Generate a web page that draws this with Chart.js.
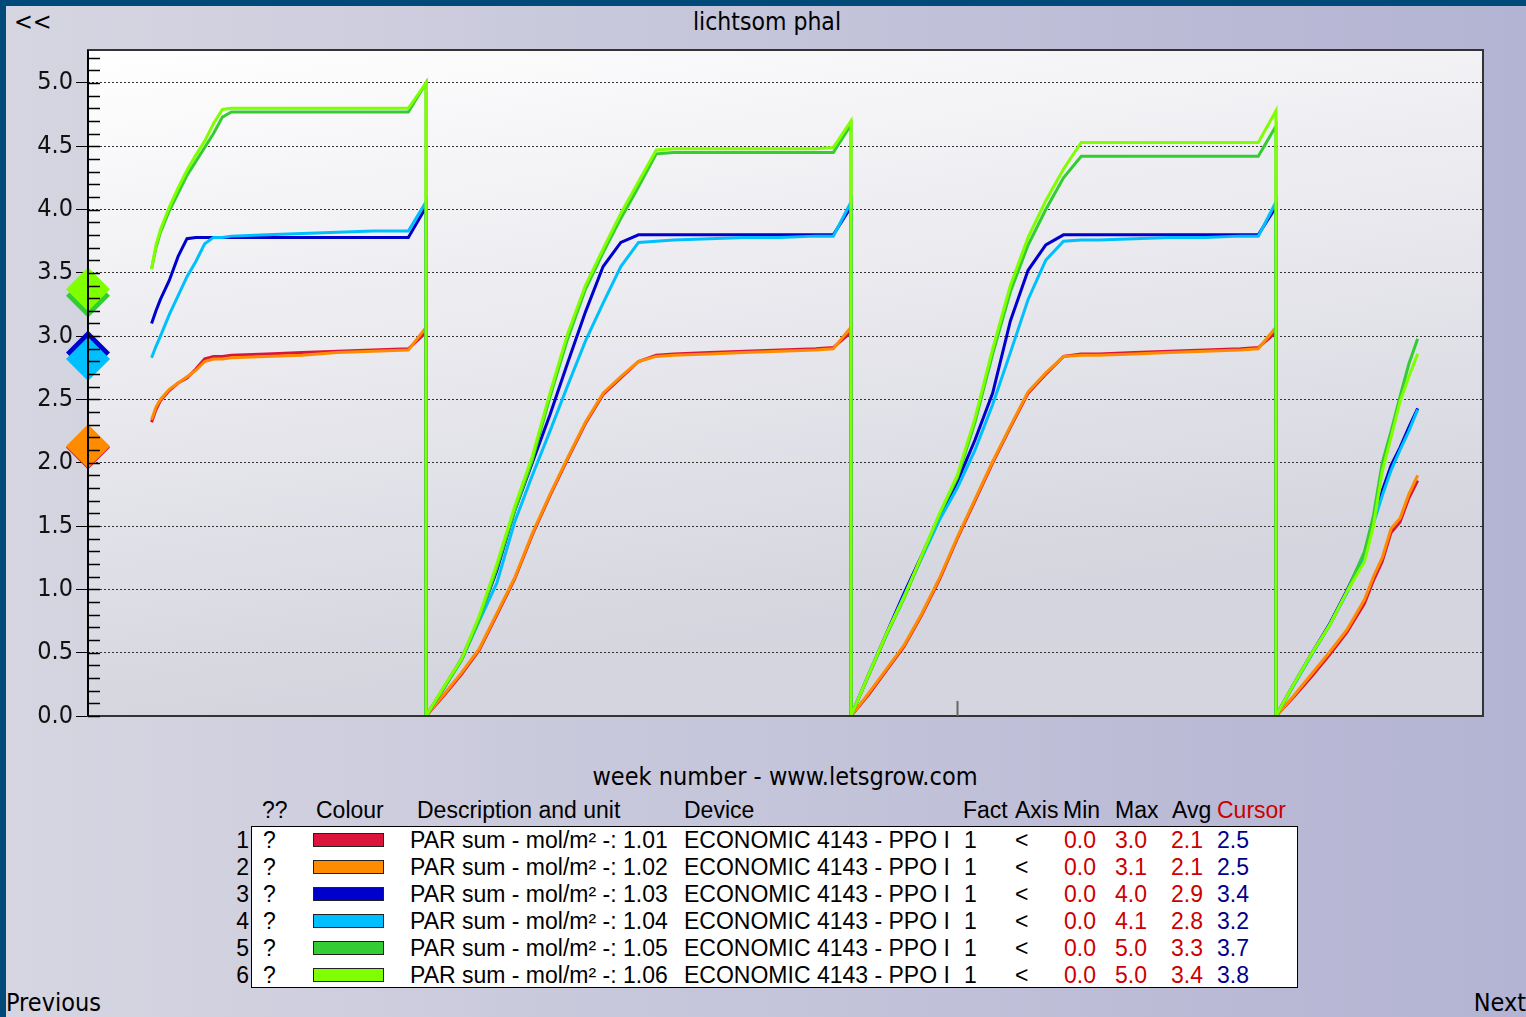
<!DOCTYPE html>
<html><head><meta charset="utf-8">
<script src="https://cdn.jsdelivr.net/npm/chart.js@4"></script>
<style>
html,body{margin:0;padding:0;}
body{width:1526px;height:1017px;overflow:hidden;position:relative;background:linear-gradient(to right,#d6d6e2,#b3b3d3);font-family:'DejaVu Sans Condensed','DejaVu Sans',sans-serif;}
#topbar{position:absolute;left:0;top:0;width:1526px;height:6px;background:#004a7a;}
#leftbar{position:absolute;left:0;top:0;width:6px;height:1017px;background:#004a7a;}
.t{position:absolute;white-space:nowrap;color:#000;font-size:25px;line-height:30px;}
canvas{position:absolute;left:0;top:0;}
.tb{position:absolute;white-space:nowrap;font-family:'Liberation Sans',Arial,sans-serif;font-size:23px;line-height:27px;color:#000;}
#box{position:absolute;left:251px;top:826px;width:1045px;height:160px;background:#fff;border:1.5px solid #000;}
.sw{position:absolute;left:313px;width:69px;height:12px;border:1px solid #222;}
</style></head>
<body>
<div id="topbar"></div><div id="leftbar"></div>
<div class="t" style="left:14px;top:7px;">&lt;&lt;</div>
<div class="t" style="left:567px;width:400px;text-align:center;top:7px;font-size:24.5px;">lichtsom phal</div>
<canvas id="c" width="1526" height="760"></canvas>
<div class="t" style="left:585px;width:400px;text-align:center;top:762px;">week number - www.letsgrow.com</div>
<div id="box"></div>
<div id="legend"></div>
<div class="t" style="left:6px;top:988px;">Previous</div>
<div class="t" style="right:0px;top:988px;">Next</div>
<script>
// time in hours (0 = first midnight in view)
const T = [-15.5,-15.25,-15,-14.5,-14,-13.5,-13,-12.5,-12,-11.5,-11,-9,-7,-5,-3,-1,0,
  0,1,2,3,4,5,6,7,8,9,10,11,12,13,14,16,18,20,22,23,24,
  24,25,26,27,28,29,30,31,32,33,34,35,36,37,38,40,42,44,46,47,48,
  48,49,50,51,52,53,53.5,54,54.5,55,55.5,56];

const par101 = [2.32,2.42,2.49,2.57,2.63,2.67,2.74,2.82,2.84,2.84,2.85,2.86,2.87,2.88,2.89,2.90,3.03,
  0,0.16,0.33,0.52,0.80,1.08,1.43,1.74,2.03,2.31,2.54,2.67,2.80,2.85,2.86,2.87,2.88,2.89,2.90,2.91,3.03,
  0,0.17,0.36,0.55,0.80,1.08,1.40,1.70,2.00,2.28,2.55,2.70,2.84,2.86,2.86,2.87,2.88,2.89,2.90,2.91,3.03,
  0,0.15,0.31,0.48,0.66,0.89,1.07,1.22,1.45,1.53,1.72,1.86];
const par102 = [2.34,2.44,2.50,2.58,2.63,2.68,2.73,2.80,2.82,2.82,2.83,2.84,2.85,2.87,2.88,2.89,3.07,
  0,0.17,0.34,0.53,0.81,1.09,1.44,1.75,2.04,2.32,2.55,2.68,2.80,2.84,2.85,2.86,2.87,2.88,2.89,2.90,3.07,
  0,0.18,0.37,0.56,0.81,1.09,1.41,1.71,2.01,2.29,2.56,2.71,2.84,2.85,2.85,2.86,2.87,2.88,2.89,2.90,3.07,
  0,0.16,0.33,0.50,0.68,0.92,1.10,1.25,1.48,1.56,1.75,1.90];
const par103 = [3.10,3.20,3.29,3.44,3.63,3.77,3.78,3.78,3.78,3.78,3.78,3.78,3.78,3.78,3.78,3.78,4.02,
  0,0.22,0.45,0.77,1.15,1.62,2.00,2.38,2.79,3.19,3.55,3.74,3.80,3.80,3.80,3.80,3.80,3.80,3.80,3.80,4.02,
  0,0.33,0.65,0.97,1.27,1.58,1.85,2.18,2.55,3.12,3.52,3.72,3.80,3.80,3.80,3.80,3.80,3.80,3.80,3.80,4.02,
  0,0.25,0.49,0.72,0.99,1.28,1.55,1.78,1.98,2.12,2.28,2.43];
const par104 = [2.83,2.92,3.00,3.17,3.32,3.47,3.59,3.73,3.78,3.78,3.79,3.80,3.81,3.82,3.83,3.83,4.06,
  0,0.22,0.44,0.75,1.05,1.53,1.90,2.25,2.61,2.96,3.26,3.55,3.74,3.75,3.76,3.77,3.78,3.78,3.79,3.79,4.06,
  0,0.33,0.64,0.95,1.25,1.55,1.80,2.10,2.46,2.87,3.29,3.60,3.75,3.76,3.76,3.77,3.78,3.78,3.79,3.79,4.06,
  0,0.24,0.48,0.71,0.97,1.26,1.52,1.74,1.94,2.10,2.25,2.42];
const par105 = [3.53,3.70,3.82,3.99,4.13,4.27,4.38,4.49,4.60,4.73,4.77,4.77,4.77,4.77,4.77,4.77,5.00,
  0,0.22,0.44,0.76,1.17,1.62,2.02,2.52,2.98,3.37,3.66,3.93,4.18,4.44,4.45,4.45,4.45,4.45,4.45,4.45,4.67,
  0,0.32,0.64,0.93,1.26,1.59,1.88,2.32,2.86,3.35,3.72,4.00,4.25,4.42,4.42,4.42,4.42,4.42,4.42,4.42,4.66,
  0,0.25,0.49,0.71,0.98,1.30,1.58,2.00,2.25,2.52,2.78,2.98];
const par106 = [3.53,3.72,3.84,4.02,4.17,4.31,4.43,4.54,4.68,4.79,4.80,4.80,4.80,4.80,4.80,4.80,5.00,
  0,0.23,0.45,0.79,1.20,1.65,2.05,2.55,3.02,3.40,3.69,3.97,4.22,4.47,4.48,4.48,4.48,4.48,4.48,4.49,4.70,
  0,0.33,0.65,0.94,1.27,1.60,1.90,2.35,2.90,3.40,3.78,4.07,4.32,4.53,4.53,4.53,4.53,4.53,4.53,4.53,4.78,
  0,0.25,0.49,0.71,0.98,1.22,1.50,1.93,2.20,2.48,2.68,2.86];

const seriesValues = [par101, par102, par103, par104, par105, par106];
const seriesColors = ['#dc143c','#ff8c00','#0000cd','#00bfff','#32cd32','#7fff00'];
const seriesDesc = ['PAR sum - mol/m² -: 1.01','PAR sum - mol/m² -: 1.02','PAR sum - mol/m² -: 1.03',
                    'PAR sum - mol/m² -: 1.04','PAR sum - mol/m² -: 1.05','PAR sum - mol/m² -: 1.06'];
const devices = ['ECONOMIC 4143 - PPO I','ECONOMIC 4143 - PPO I','ECONOMIC 4143 - PPO I',
                 'ECONOMIC 4143 - PPO I','ECONOMIC 4143 - PPO I','ECONOMIC 4143 - PPO I'];
const factVals = ['1','1','1','1','1','1'];
const axisVals = ['<','<','<','<','<','<'];
const minVals = ['0.0','0.0','0.0','0.0','0.0','0.0'];
const maxVals = ['3.0','3.1','4.0','4.1','5.0','5.0'];
const avgVals = ['2.1','2.1','2.9','2.8','3.3','3.4'];
const cursorVals = ['2.5','2.5','3.4','3.2','3.7','3.8'];
const avgMarkers = [2.12, 2.13, 2.87, 2.82, 3.32, 3.37];

const X_MIN = -19.09, X_MAX = 59.69, Y_MAX = 5.26;
const WEEK_MARK = 30;

// ---- legend table ----
const L = document.getElementById('legend');
function txt(s, x, y, color, align){
  const d = document.createElement('div');
  d.className = 'tb';
  d.textContent = s;
  d.style.top = (y - 13.5) + 'px';
  if (align === 'right') { d.style.left = (x - 100) + 'px'; d.style.width = '100px'; d.style.textAlign = 'right'; }
  else d.style.left = x + 'px';
  if (color) d.style.color = color;
  L.appendChild(d);
}
const HY = 810;
txt('??',262,HY); txt('Colour',316,HY); txt('Description and unit',417,HY); txt('Device',684,HY);
txt('Fact',963,HY); txt('Axis',1015,HY); txt('Min',1063,HY); txt('Max',1115,HY); txt('Avg',1172,HY);
txt('Cursor',1217,HY,'#cc0000');
for (let i = 0; i < 6; i++) {
  const y = 840 + 27*i;
  txt(String(i+1), 249, y, null, 'right');
  txt('?', 263, y);
  const s = document.createElement('div');
  s.className = 'sw'; s.style.top = (y - 7) + 'px'; s.style.background = seriesColors[i];
  L.appendChild(s);
  txt(seriesDesc[i], 410, y);
  txt(devices[i], 684, y);
  txt(factVals[i], 964, y);
  txt(axisVals[i], 1015, y);
  txt(minVals[i], 1064, y, '#cc0000');
  txt(maxVals[i], 1115, y, '#cc0000');
  txt(avgVals[i], 1171, y, '#cc0000');
  txt(cursorVals[i], 1217, y, '#00008b');
}

// ---- chart ----
const isMajor = v => Math.round(v*10) % 5 === 0;
const lineSets = seriesValues.map((vals, i) => ({
  type: 'line',
  data: T.map((t, k) => ({x: t, y: vals[k]})),
  borderColor: seriesColors[i],
  borderWidth: 3,
  pointRadius: 0,
  tension: 0,
  fill: false,
  order: 11 - i
}));
const markerSets = avgMarkers.map((v, i) => ({
  type: 'line',
  data: [{x: X_MIN, y: v}],
  showLine: false,
  pointStyle: 'rectRot',
  pointRadius: 22,
  pointBackgroundColor: seriesColors[i],
  pointBorderWidth: 0,
  clip: false,
  order: 5 - i
}));

const deco = {
  id: 'deco',
  beforeDraw(chart) {
    const {ctx, chartArea: a} = chart;
    const g = ctx.createLinearGradient(a.left, a.top, a.left + 100, a.bottom);
    g.addColorStop(0, '#ffffff');
    g.addColorStop(1, '#d5d5df');
    ctx.save(); ctx.fillStyle = g; ctx.fillRect(a.left, a.top, a.right - a.left, a.bottom - a.top); ctx.restore();
  },
  afterDraw(chart) {
    const {ctx, chartArea: a, scales: {x, y}} = chart;
    ctx.save();
    ctx.strokeStyle = '#333'; ctx.lineWidth = 2;
    ctx.strokeRect(a.left, a.top, a.right - a.left, a.bottom - a.top);
    ctx.strokeStyle = '#000'; ctx.lineWidth = 2;
    ctx.beginPath(); ctx.moveTo(a.left, a.top); ctx.lineTo(a.left, a.bottom); ctx.stroke();
    ctx.lineWidth = 1.5;
    for (let k = 0; k <= Math.floor(Y_MAX*10); k++) {
      const py = Math.round(y.getPixelForValue(k/10)) + 0.5;
      ctx.beginPath(); ctx.moveTo(a.left, py); ctx.lineTo(a.left + 12, py); ctx.stroke();
    }
    const wx = Math.round(x.getPixelForValue(WEEK_MARK)) + 0.5;
    ctx.strokeStyle = '#666'; ctx.lineWidth = 2;
    ctx.beginPath(); ctx.moveTo(wx, a.bottom); ctx.lineTo(wx, a.bottom - 15); ctx.stroke();
    ctx.restore();
  }
};

new Chart(document.getElementById('c'), {
  type: 'line',
  data: { datasets: [...lineSets, ...markerSets] },
  options: {
    responsive: false,
    animation: false,
    layout: { padding: { left: 0, right: 43, top: 50, bottom: 44 } },
    plugins: { legend: { display: false }, tooltip: { enabled: false } },
    scales: {
      x: { type: 'linear', min: X_MIN, max: X_MAX, display: false },
      y: {
        type: 'linear', min: 0, max: Y_MAX,
        afterFit(s) { s.width = 88; },
        ticks: {
          stepSize: 0.1, autoSkip: false, includeBounds: false, padding: 3,
          color: '#111', font: { family: "'DejaVu Sans Condensed','DejaVu Sans'", size: 25 },
          callback: v => isMajor(v) ? (Math.round(v*10)/10).toFixed(1) : ''
        },
        grid: {
          color: c => (c.tick && isMajor(c.tick.value)) ? '#333' : 'rgba(0,0,0,0)',
          tickColor: c => (c.tick && isMajor(c.tick.value)) ? '#000' : 'rgba(0,0,0,0)',
          tickLength: 12, lineWidth: 1, drawTicks: true
        },
        border: { display: false, dash: [2, 2] }
      }
    }
  },
  plugins: [deco]
});
</script>
</body></html>
